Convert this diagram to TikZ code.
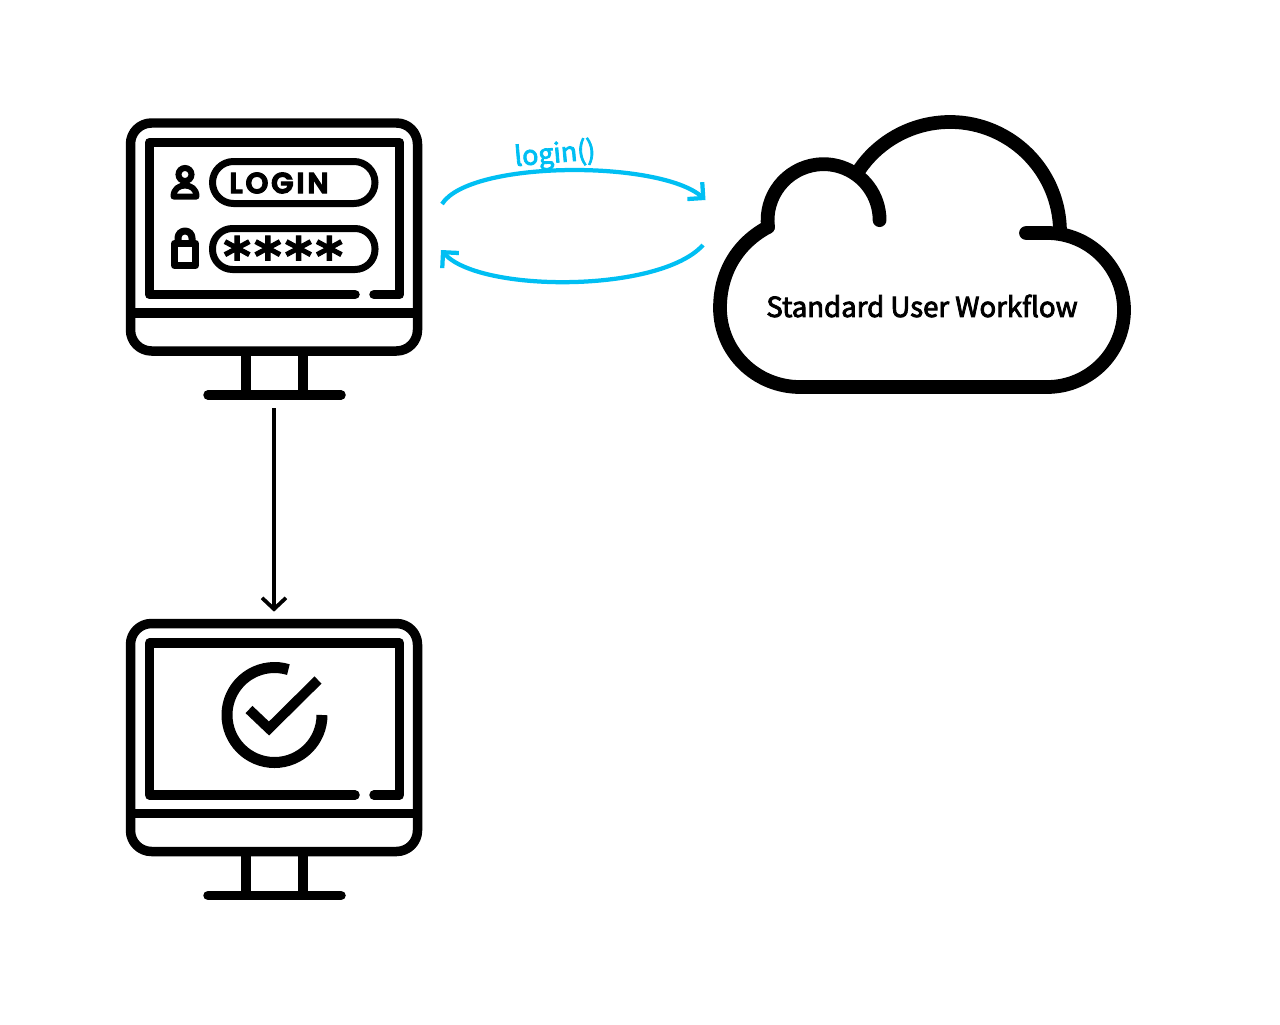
\documentclass[tikz,border=0pt]{standalone}
\usepackage{fontspec}
\usetikzlibrary{arrows.meta}
\newfontfamily\labelfont[FakeBold=3]{Noto Sans CJK SC}
\newfontfamily\badgefont[LetterSpace=10,FakeBold=4]{Poppins SemiBold}
\newfontfamily\starfont[LetterSpace=6,FakeBold=2]{DejaVu Sans Bold}
\definecolor{loginblue}{HTML}{00BFF3}

\tikzset{
  iconline/.style={line width=0.19cm, line join=round},
  thinline/.style={line width=0.14cm, line join=round},
  cloudline/.style={line width=0.275cm, line join=round},
  iconbox/.style={inner sep=0pt, minimum width=5.94cm, minimum height=5.64cm},
  callarrow/.style={line width=0.085cm, loginblue, -{Straight Barb[length=6.4pt, width=12.8pt]}},
  monitor/.pic={
    \draw[iconline, rounded corners=0.42cm] (-143.5,-114) rectangle (143.5,114);
    \draw[iconline] (-143.5,76) -- (143.5,76);
    \draw[iconline, line cap=round] (81,57.5) -- (-124.5,57.5) -- (-124.5,-94.5) -- (125.5,-94.5) -- (125.5,57.5) -- (100,57.5);
    % stand
    \draw[iconline] (-28,114) -- (-28,158);
    \draw[iconline] (29,114) -- (29,158);
    \draw[iconline, line cap=round] (-66,158) -- (67,158);
  }
}

\begin{document}
\begin{tikzpicture}[x=0.02cm, y=-0.02cm]
  \useasboundingbox (0,0) rectangle (1280,1024);

  % Monitors
  \node[iconbox] (loginpc) at (274,259) {};
  \node[iconbox] (donepc) at (274,759.5) {};
  \pic at (274,237) {monitor};
  \pic at (274,737.5) {monitor};

  % Login form
  \draw[thinline, rounded corners=0.42cm] (212.5,161.5) rectangle (375,203.5);
  \draw[thinline, rounded corners=0.4cm] (212.5,228.5) rectangle (375,269.5);
  \node[inner sep=0pt, anchor=west] (logintext) at (229,183) {\badgefont\fontsize{16.5}{16.5}\selectfont LOGIN};
  \node[inner sep=0pt, anchor=base west] (stars) at (223,275) {\starfont\fontsize{30}{30}\selectfont ****};

  % User and lock
  \draw[line width=0.12cm] (185,174.5) circle (6.5);
  \draw[line width=0.12cm, line join=round] (173.5,196.5) .. controls (173.5,189) and (179,185.5) .. (185,185.5) .. controls (191,185.5) and (196.5,189) .. (196.5,196.5) -- cycle;
  \draw[thinline] (174.5,243.5) rectangle (195.5,265.5);
  \draw[thinline] (178,243.5) -- (178,238) arc (180:360:7) -- (192,243.5);

  % Check mark
  \draw[line width=0.22cm] (322,715) arc (0:287:47.5);
  \draw[line width=0.2cm, miter limit=10] (249,709.5) -- (269,728.5) -- (318,680);

  % Cloud
  \draw[cloudline] (856.7,173.7) arc (212:360:110);
  \draw[cloudline, line cap=round] (768,227) arc (173:360:56);
  \draw[cloudline, line cap=round] (768,227) .. controls (738,243) and (720,272) .. (720,308)
    .. controls (720,352) and (756,387) .. (800,387) -- (1047,387) arc (90:-90:77) -- (1026,233);
  \node[inner sep=0pt] (cloudlabel) at (922,306) {\labelfont\fontsize{15.7}{15.7}\selectfont Standard User Workflow};

  % Calls
  \coordinate (loginout) at (442,204);
  \coordinate (clouddin) at (705.5,200);
  \coordinate (cloudout) at (703,245);
  \coordinate (loginin) at (441,250);
  \draw[callarrow] (loginout) .. controls (470,160) and (660,160) .. (clouddin);
  \draw[callarrow] (cloudout) .. controls (660,293) and (480,293) .. (loginin);
  \node[inner sep=0pt, rotate=5, text=loginblue] (logincall) at (555,155) {\labelfont\fontsize{15.3}{15.3}\selectfont login()};

  % Result
  \draw[line width=0.075cm, -{Straight Barb[length=6.4pt, width=13.6pt]}, shorten <=0.16cm, shorten >=0.13cm] (loginpc.south) -- (donepc.north);
\end{tikzpicture}
\end{document}
